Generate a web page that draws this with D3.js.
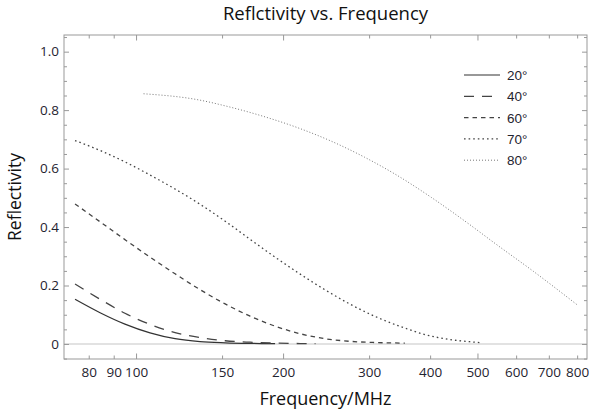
<!DOCTYPE html>
<html>
<head>
<meta charset="utf-8">
<script src="https://cdn.jsdelivr.net/npm/d3@7"></script>
<style>
  body { margin: 0; background: #fff; }
  svg { display: block; font-family: "Open Sans", "Noto Sans", sans-serif; }
</style>
</head>
<body>
<svg id="chart" width="592" height="416"></svg>
<script>
// series: angle labels + frequency (MHz) / reflectivity
const angles = ["20°", "40°", "60°", "70°", "80°"];

const freq20 = [75, 84.4, 94.9, 106.8, 120.2, 135.2, 152.2, 171.2, 192.6];
const refl20 = [0.153, 0.107, 0.068, 0.038, 0.018, 0.008, 0.004, 0.002, 0.001];

const freq40 = [75, 84.4, 94.9, 106.8, 120.2, 135.2, 152.2, 171.2, 192.6, 216.8, 233];
const refl40 = [0.205, 0.153, 0.105, 0.067, 0.039, 0.022, 0.011, 0.006, 0.003, 0.0015, 0.001];

const freq60 = [75, 84.4, 94.9, 106.8, 120.2, 135.2, 152.2, 171.2, 192.6, 216.8, 243.9, 274.4, 308.8, 355];
const refl60 = [0.479, 0.418, 0.357, 0.297, 0.240, 0.186, 0.137, 0.095, 0.061, 0.035, 0.018, 0.009, 0.005, 0.003];

const freq70 = [75, 84.4, 94.9, 106.8, 120.2, 135.2, 152.2, 171.2, 192.6, 216.8, 243.9, 274.4, 308.8, 347.4, 390.9, 439.8, 494.8, 510];
const refl70 = [0.696, 0.662, 0.623, 0.578, 0.530, 0.478, 0.420, 0.358, 0.297, 0.239, 0.185, 0.136, 0.094, 0.060, 0.032, 0.015, 0.006, 0.004];

const freq80 = [103.6, 133.3, 156.1, 182.8, 214.1, 250.8, 293.6, 343.8, 402.6, 471.6, 552.4, 650.3, 800];
const refl80 = [0.856, 0.836, 0.810, 0.778, 0.740, 0.694, 0.639, 0.575, 0.501, 0.420, 0.335, 0.249, 0.134];

const xTickVals = [80, 90, 100, 150, 200, 300, 400, 500, 600, 700, 800];
const xMajorVals = [100, 200, 500];
const yTickVals = [0, 0.2, 0.4, 0.6, 0.8, 1.0];
const yTickLabels = ["0", "0.2", "0.4", "0.6", "0.8", "1.0"];

(function() {
  const svg = d3.select("#chart");
  const W = 592, H = 416;
  const m = { top: 35, right: 5, bottom: 57, left: 64 };
  const iw = W - m.left - m.right;
  const ih = H - m.top - m.bottom;

  const x = d3.scaleLog().domain([71.2, 838]).range([0, iw]);
  const y = d3.scaleLinear().domain([-0.0514, 1.057]).range([ih, 0]);

  const g = svg.append("g").attr("transform", `translate(${m.left},${m.top})`);

  // zero line
  g.append("line")
    .attr("x1", 0).attr("x2", iw)
    .attr("y1", y(0)).attr("y2", y(0))
    .attr("stroke", "#d9d9d9").attr("stroke-width", 1.5);

  // curves
  const series = [
    { f: freq20, r: refl20, dash: null, color: "#333", w: 1.2 },
    { f: freq40, r: refl40, dash: "10,8", color: "#444", w: 1.3 },
    { f: freq60, r: refl60, dash: "4.5,4", color: "#444", w: 1.3 },
    { f: freq70, r: refl70, dash: "1.6,3", color: "#444", w: 1.3 },
    { f: freq80, r: refl80, dash: "1,2", color: "#777", w: 1 }
  ];

  const line = d3.line()
    .x(d => x(d[0]))
    .y(d => y(d[1]))
    .curve(d3.curveMonotoneX);

  series.forEach(s => {
    g.append("path")
      .datum(d3.zip(s.f, s.r))
      .attr("d", line)
      .attr("fill", "none")
      .attr("stroke", s.color)
      .attr("stroke-width", s.w)
      .attr("stroke-dasharray", s.dash);
  });

  // axes: ticks point inward, frame drawn separately
  const tickColor = "#999";
  const xMinor = xTickVals.filter(v => !xMajorVals.includes(v));
  const yMinor = d3.range(-0.05, 1.051, 0.05).map(v => +v.toFixed(2)).filter(v => !yTickVals.includes(v));

  function styleAxis(sel) {
    sel.select(".domain").remove();
    sel.selectAll(".tick line").attr("stroke", tickColor);
    sel.selectAll(".tick text")
      .attr("fill", "#1f2430")
      .style("font-size", "13.5px")
      .style("font-family", "'Open Sans', 'Noto Sans', sans-serif");
  }

  // bottom labels + major/minor
  g.append("g").attr("transform", `translate(0,${ih})`)
    .call(d3.axisBottom(x).tickValues(xTickVals).tickFormat(d3.format("d")).tickSize(0).tickPadding(8))
    .call(styleAxis);
  g.append("g").attr("transform", `translate(0,${ih})`)
    .call(d3.axisBottom(x).tickValues(xMajorVals).tickFormat("").tickSize(-5.5))
    .call(styleAxis);
  g.append("g").attr("transform", `translate(0,${ih})`)
    .call(d3.axisBottom(x).tickValues(xMinor).tickFormat("").tickSize(-3.5))
    .call(styleAxis);
  // top mirrored
  g.append("g")
    .call(d3.axisTop(x).tickValues(xMajorVals).tickFormat("").tickSize(-5.5))
    .call(styleAxis);
  g.append("g")
    .call(d3.axisTop(x).tickValues(xMinor).tickFormat("").tickSize(-3.5))
    .call(styleAxis);

  // left
  g.append("g")
    .call(d3.axisLeft(y).tickValues(yTickVals).tickFormat((d, i) => yTickLabels[i]).tickSizeInner(-5).tickSizeOuter(0).tickPadding(5))
    .call(styleAxis);
  g.append("g")
    .call(d3.axisLeft(y).tickValues(yMinor).tickFormat("").tickSize(-3))
    .call(styleAxis);
  // right mirrored
  g.append("g").attr("transform", `translate(${iw},0)`)
    .call(d3.axisRight(y).tickValues(yTickVals).tickFormat("").tickSize(-5))
    .call(styleAxis);
  g.append("g").attr("transform", `translate(${iw},0)`)
    .call(d3.axisRight(y).tickValues(yMinor).tickFormat("").tickSize(-3))
    .call(styleAxis);

  // frame
  g.append("rect")
    .attr("x", 0).attr("y", 0).attr("width", iw).attr("height", ih)
    .attr("fill", "none").attr("stroke", tickColor).attr("stroke-width", 1);

  // title & axis labels
  svg.append("text")
    .attr("x", m.left + iw / 2).attr("y", 20)
    .attr("text-anchor", "middle")
    .style("font-size", "18.5px").attr("fill", "#111")
    .text("Reflctivity vs. Frequency");

  svg.append("text")
    .attr("x", m.left + iw / 2).attr("y", 405)
    .attr("text-anchor", "middle")
    .style("font-size", "18px").attr("fill", "#111")
    .text("Frequency/MHz");

  svg.append("text")
    .attr("transform", `translate(21,${m.top + ih / 2}) rotate(-90)`)
    .attr("text-anchor", "middle")
    .style("font-size", "17.5px").attr("fill", "#111")
    .text("Reflectivity");

  // legend
  const legend = svg.append("g").attr("transform", "translate(464,75)");
  series.forEach((s, i) => {
    const row = legend.append("g").attr("transform", `translate(0,${i * 21.3})`);
    row.append("line")
      .attr("x1", 0).attr("x2", 36).attr("y1", 0).attr("y2", 0)
      .attr("stroke", s.color).attr("stroke-width", s.w)
      .attr("stroke-dasharray", s.dash);
    row.append("text")
      .attr("x", 43).attr("y", 5)
      .style("font-size", "13.5px")
      .style("font-family", "'Liberation Sans', Arial, sans-serif")
      .attr("fill", "#1f2430")
      .text(angles[i]);
  });
})();
</script>
</body>
</html>
